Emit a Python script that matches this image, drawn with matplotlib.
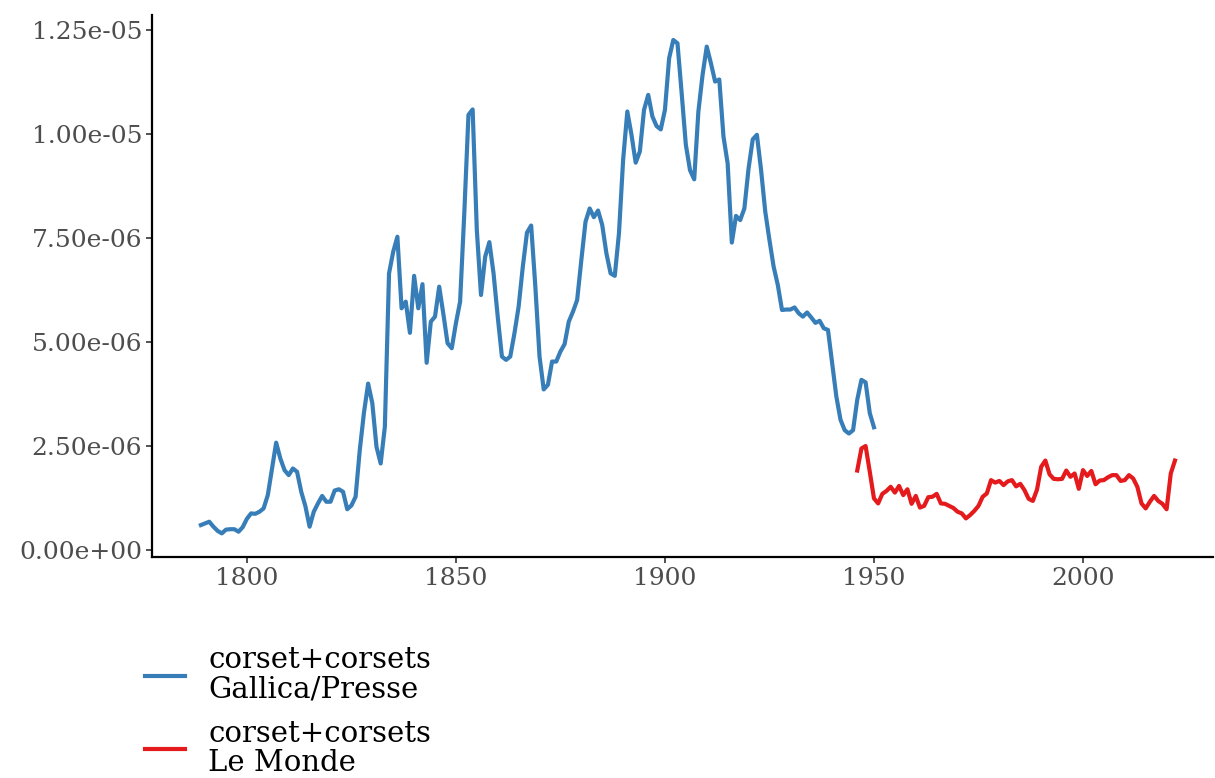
import matplotlib
matplotlib.use("Agg")
import matplotlib.pyplot as plt
import numpy as np

# Gallica/Presse series (1789-1950), values in units of 1e-6
gallica_years = list(range(1789, 1951))
gallica_values = [
    0.60, 0.64, 0.68, 0.56, 0.46, 0.40, 0.49, 0.50, 0.50, 0.44,   # 1789-1798
    0.55, 0.75, 0.88, 0.87, 0.92, 1.00, 1.32, 1.95, 2.58, 2.20,   # 1799-1808
    1.92, 1.80, 1.96, 1.88, 1.40, 1.05, 0.56, 0.92, 1.12, 1.30,   # 1809-1818
    1.16, 1.16, 1.43, 1.46, 1.40, 0.98, 1.07, 1.28, 2.40, 3.30,   # 1819-1828
    4.00, 3.53, 2.48, 2.08, 2.96, 6.65, 7.17, 7.53, 5.81, 5.97,   # 1829-1838
    5.22, 6.59, 5.81, 6.39, 4.50, 5.49, 5.61, 6.33, 5.67, 4.97,   # 1839-1848
    4.85, 5.45, 5.97, 8.09, 10.46, 10.59, 7.69, 6.13, 7.05, 7.40, # 1849-1858
    6.65, 5.61, 4.65, 4.57, 4.65, 5.21, 5.85, 6.81, 7.63, 7.80,   # 1859-1868
    6.33, 4.65, 3.86, 3.97, 4.53, 4.53, 4.77, 4.95, 5.49, 5.73,   # 1869-1878
    6.01, 6.97, 7.89, 8.21, 8.00, 8.16, 7.81, 7.13, 6.65, 6.59,   # 1879-1888
    7.61, 9.38, 10.54, 9.98, 9.31, 9.58, 10.58, 10.94, 10.42, 10.19,  # 1889-1898
    10.11, 10.58, 11.82, 12.26, 12.18, 10.98, 9.74, 9.13, 8.91, 10.54, # 1899-1908
    11.42, 12.10, 11.70, 11.26, 11.31, 9.94, 9.29, 7.39, 8.03, 7.93,   # 1909-1918
    8.21, 9.17, 9.87, 9.98, 9.13, 8.13, 7.45, 6.81, 6.37, 5.77,   # 1919-1928
    5.78, 5.78, 5.83, 5.69, 5.61, 5.71, 5.59, 5.46, 5.51, 5.33,   # 1929-1938
    5.29, 4.49, 3.69, 3.13, 2.88, 2.80, 2.88, 3.61, 4.09, 4.03,   # 1939-1948
    3.29, 2.95,                                                   # 1949-1950
]

# Le Monde series (1946-2022), values in units of 1e-6
lemonde_years = list(range(1946, 2023))
lemonde_values = [
    1.91, 2.44, 2.50, 1.88, 1.24, 1.12, 1.35, 1.42, 1.52, 1.38,   # 1946-1955
    1.54, 1.32, 1.46, 1.11, 1.30, 1.02, 1.06, 1.27, 1.28, 1.35,   # 1956-1965
    1.12, 1.11, 1.06, 1.01, 0.92, 0.88, 0.76, 0.84, 0.94, 1.06,   # 1966-1975
    1.28, 1.36, 1.68, 1.62, 1.66, 1.56, 1.65, 1.68, 1.53, 1.59,   # 1976-1985
    1.44, 1.23, 1.18, 1.45, 2.00, 2.15, 1.82, 1.71, 1.70, 1.71,   # 1986-1995
    1.91, 1.76, 1.84, 1.47, 1.92, 1.78, 1.90, 1.58, 1.67, 1.68,   # 1996-2005
    1.75, 1.80, 1.80, 1.66, 1.68, 1.80, 1.72, 1.52, 1.12, 1.00,   # 2006-2015
    1.16, 1.30, 1.18, 1.11, 0.98, 1.84, 2.15,                     # 2016-2022
]

series_labels = ["corset+corsets\nGallica/Presse", "corset+corsets\nLe Monde"]
series_colors = ["#377EB8", "#E41A1C"]
x_ticks = [1800, 1850, 1900, 1950, 2000]
y_ticks = [0, 2.5e-6, 5e-6, 7.5e-6, 1e-5, 1.25e-5]
y_ticklabels = ["0.00e+00", "2.50e-06", "5.00e-06", "7.50e-06", "1.00e-05", "1.25e-05"]

plt.rcParams['font.family'] = ['DejaVu Serif']

W, H = 1215, 778
fig = plt.figure(figsize=(W / 100, H / 100), dpi=100)
left, right, top, bottom = 152, 1213, 15, 557
ax = fig.add_axes([left / W, 1 - bottom / H, (right - left) / W, (bottom - top) / H])

g = np.array(gallica_values) * 1e-6
m = np.array(lemonde_values) * 1e-6
l1, = ax.plot(gallica_years, g, color=series_colors[0], lw=3.0, solid_joinstyle='round')
l2, = ax.plot(lemonde_years, m, color=series_colors[1], lw=3.0, solid_joinstyle='round')

ax.set_xlim(1777.3, 2031.1)
ax.set_ylim(-0.168e-6, 12.86e-6)
ax.set_xticks(x_ticks)
ax.set_xticklabels([str(t) for t in x_ticks])
ax.set_yticks(y_ticks)
ax.set_yticklabels(y_ticklabels)

for s in ['top', 'right']:
    ax.spines[s].set_visible(False)
for s in ['left', 'bottom']:
    ax.spines[s].set_linewidth(1.6)
    ax.spines[s].set_color('black')
ax.tick_params(axis='both', colors='#333333', length=4, width=1.2, labelsize=18,
               labelcolor='#4d4d4d', pad=3)

leg = fig.legend([l1, l2], series_labels, loc='upper left', bbox_to_anchor=(145 / W, 1 - 646 / H),
                 frameon=False, fontsize=21, handlelength=1.37, handletextpad=0.79,
                 labelspacing=0.54, borderaxespad=0, borderpad=0)
for t in leg.get_texts():
    t.set_linespacing(1.08)

fig.savefig("out.png", dpi=100)
